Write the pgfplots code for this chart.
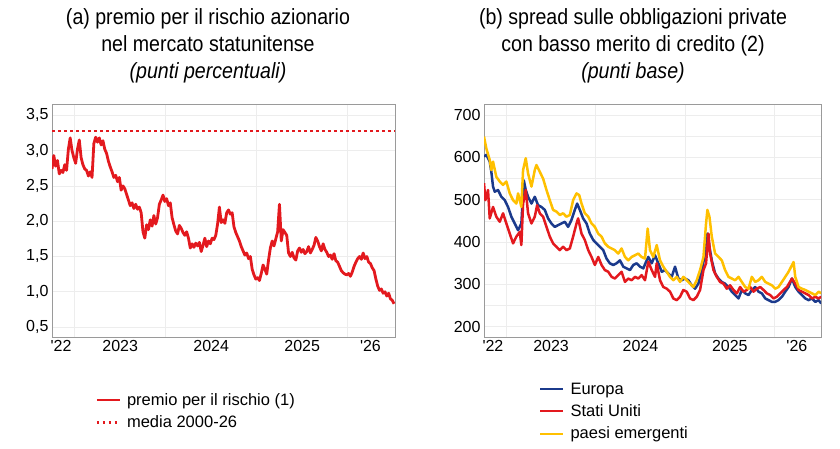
\documentclass[border=0pt]{standalone}
\usepackage{fontspec}
\setmainfont{Liberation Sans}
\newfontfamily\titlefont[FakeStretch=0.89]{Liberation Sans}
\usepackage{pgfplots}
\pgfplotsset{compat=1.18}
\usepackage{pgfplotstable}

\definecolor{bdired}{HTML}{E3191E}
\definecolor{bdiblue}{HTML}{1B3A8C}
\definecolor{bdiyellow}{HTML}{FFC000}
\definecolor{gridgray}{HTML}{EDEDED}
\definecolor{framegray}{HTML}{9A9A9A}

% equity risk premium, US market (percentage points)
\pgfplotstableread{
year erp
2022.75 2.74
2022.77 2.93
2022.79 2.78
2022.81 2.86
2022.83 2.67
2022.85 2.72
2022.87 2.69
2022.89 2.80
2022.91 2.72
2022.93 3.02
2022.95 3.18
2022.97 3.00
2022.99 2.90
2023.01 2.82
2023.03 3.02
2023.05 3.15
2023.07 2.90
2023.09 2.80
2023.11 2.74
2023.13 2.72
2023.15 2.64
2023.17 2.70
2023.19 2.62
2023.21 3.10
2023.23 3.19
2023.25 3.12
2023.27 3.18
2023.29 3.08
2023.31 3.14
2023.33 3.02
2023.35 2.96
2023.37 2.85
2023.39 2.77
2023.41 2.70
2023.43 2.62
2023.45 2.65
2023.47 2.56
2023.49 2.62
2023.51 2.44
2023.53 2.50
2023.55 2.46
2023.57 2.38
2023.59 2.30
2023.61 2.22
2023.63 2.26
2023.65 2.18
2023.67 2.24
2023.69 2.17
2023.71 2.20
2023.73 2.12
2023.75 1.85
2023.77 1.76
2023.79 1.95
2023.81 1.88
2023.83 2.02
2023.85 1.93
2023.87 2.08
2023.89 1.96
2023.91 2.05
2023.93 2.24
2023.95 2.30
2023.97 2.37
2023.99 2.28
2024.01 2.32
2024.03 2.22
2024.05 2.26
2024.07 2.05
2024.09 1.95
2024.11 1.86
2024.13 1.82
2024.15 1.94
2024.17 1.90
2024.19 1.84
2024.21 1.80
2024.23 1.85
2024.25 1.76
2024.27 1.62
2024.29 1.68
2024.31 1.63
2024.33 1.69
2024.35 1.65
2024.37 1.70
2024.39 1.57
2024.41 1.66
2024.43 1.76
2024.45 1.64
2024.47 1.72
2024.49 1.68
2024.51 1.76
2024.53 1.74
2024.55 1.80
2024.57 1.96
2024.59 2.20
2024.61 1.98
2024.63 2.02
2024.65 1.97
2024.67 2.12
2024.69 2.16
2024.71 2.10
2024.73 2.12
2024.75 1.92
2024.77 1.84
2024.79 1.78
2024.81 1.72
2024.83 1.64
2024.85 1.58
2024.87 1.52
2024.89 1.55
2024.91 1.47
2024.93 1.50
2024.95 1.32
2024.97 1.24
2024.99 1.18
2025.01 1.20
2025.03 1.16
2025.05 1.26
2025.07 1.38
2025.09 1.32
2025.11 1.25
2025.13 1.45
2025.15 1.62
2025.17 1.72
2025.19 1.65
2025.21 1.75
2025.23 1.85
2025.25 2.24
2025.27 1.72
2025.29 1.88
2025.31 1.84
2025.33 1.80
2025.35 1.55
2025.37 1.50
2025.39 1.56
2025.41 1.48
2025.43 1.45
2025.45 1.58
2025.47 1.62
2025.49 1.56
2025.51 1.60
2025.53 1.54
2025.55 1.57
2025.57 1.64
2025.59 1.55
2025.61 1.60
2025.63 1.66
2025.65 1.77
2025.67 1.72
2025.69 1.64
2025.71 1.58
2025.73 1.68
2025.75 1.60
2025.77 1.56
2025.79 1.50
2025.81 1.52
2025.83 1.46
2025.85 1.54
2025.87 1.44
2025.89 1.42
2025.91 1.36
2025.93 1.30
2025.95 1.27
2025.97 1.25
2025.99 1.24
2026.01 1.26
2026.03 1.22
2026.05 1.28
2026.07 1.36
2026.09 1.42
2026.11 1.47
2026.13 1.50
2026.15 1.46
2026.17 1.55
2026.19 1.47
2026.21 1.50
2026.23 1.42
2026.25 1.40
2026.27 1.34
2026.29 1.30
2026.31 1.18
2026.33 1.08
2026.35 1.02
2026.37 1.04
2026.39 0.98
2026.41 1.00
2026.43 0.94
2026.45 0.98
2026.47 0.90
2026.49 0.88
2026.51 0.83
}\erptable

% high-yield corporate spreads: Europe (basis points)
\pgfplotstableread{
year bp
2022.750 602
2022.776 606
2022.814 590
2022.832 566
2022.851 531
2022.870 519
2022.907 523
2022.944 507
2022.982 499
2023.019 483
2023.056 460
2023.094 444
2023.131 428
2023.168 444
2023.195 546
2023.217 523
2023.243 507
2023.281 491
2023.318 507
2023.355 487
2023.392 483
2023.430 476
2023.467 456
2023.504 444
2023.542 436
2023.579 440
2023.616 444
2023.654 448
2023.691 436
2023.728 452
2023.766 476
2023.792 491
2023.822 476
2023.859 456
2023.897 444
2023.934 420
2023.972 405
2024.009 397
2024.046 389
2024.084 381
2024.121 361
2024.158 350
2024.196 346
2024.233 350
2024.271 357
2024.308 342
2024.345 338
2024.383 334
2024.420 346
2024.457 350
2024.495 342
2024.532 338
2024.570 357
2024.588 365
2024.626 350
2024.663 369
2024.700 350
2024.738 330
2024.775 334
2024.812 326
2024.850 318
2024.887 342
2024.924 314
2024.962 310
2024.999 314
2025.036 310
2025.074 298
2025.111 290
2025.148 302
2025.186 334
2025.223 373
2025.249 420
2025.272 389
2025.298 357
2025.335 326
2025.373 314
2025.410 306
2025.447 302
2025.485 294
2025.522 283
2025.559 275
2025.597 267
2025.634 287
2025.672 279
2025.709 275
2025.746 287
2025.784 294
2025.821 283
2025.858 279
2025.896 267
2025.933 263
2025.970 259
2026.008 259
2026.045 263
2026.083 271
2026.120 283
2026.157 294
2026.195 314
2026.232 294
2026.269 283
2026.307 275
2026.344 267
2026.381 263
2026.419 267
2026.456 259
2026.493 263
2026.523 255
}\eurtable

% high-yield corporate spreads: United States (basis points)
\pgfplotstableread{
year bp
2022.750 539
2022.765 499
2022.795 523
2022.814 456
2022.851 483
2022.888 460
2022.926 448
2022.963 468
2023.000 444
2023.038 420
2023.075 397
2023.112 413
2023.150 424
2023.168 393
2023.187 491
2023.217 523
2023.243 468
2023.281 444
2023.318 460
2023.344 487
2023.374 468
2023.411 460
2023.449 436
2023.486 413
2023.523 397
2023.561 389
2023.598 381
2023.635 389
2023.672 381
2023.710 385
2023.747 413
2023.785 444
2023.803 456
2023.841 420
2023.878 405
2023.916 381
2023.953 365
2023.990 346
2024.028 365
2024.065 346
2024.102 334
2024.140 330
2024.177 318
2024.214 314
2024.252 322
2024.289 330
2024.327 306
2024.364 314
2024.401 310
2024.439 318
2024.476 314
2024.513 322
2024.551 310
2024.588 354
2024.626 334
2024.663 318
2024.682 350
2024.719 310
2024.756 294
2024.794 290
2024.831 283
2024.868 267
2024.906 263
2024.943 271
2024.980 287
2025.018 283
2025.055 267
2025.092 263
2025.130 271
2025.167 287
2025.205 334
2025.234 350
2025.261 420
2025.279 373
2025.317 334
2025.354 318
2025.391 306
2025.429 302
2025.466 290
2025.503 298
2025.541 287
2025.578 279
2025.615 294
2025.653 283
2025.690 287
2025.728 294
2025.765 283
2025.802 290
2025.840 294
2025.877 287
2025.914 279
2025.952 275
2025.989 267
2026.026 271
2026.064 279
2026.101 287
2026.139 294
2026.195 314
2026.232 302
2026.269 287
2026.307 283
2026.344 279
2026.381 275
2026.419 267
2026.456 271
2026.493 267
2026.523 271
}\usatable

% high-yield corporate spreads: emerging economies (basis points)
\pgfplotstableread{
year bp
2022.750 649
2022.776 621
2022.814 594
2022.832 570
2022.851 590
2022.888 554
2022.926 543
2022.963 535
2023.000 543
2023.038 515
2023.075 499
2023.112 491
2023.131 515
2023.150 499
2023.168 483
2023.187 570
2023.217 598
2023.243 562
2023.281 531
2023.318 570
2023.337 582
2023.374 566
2023.411 550
2023.449 523
2023.486 499
2023.523 476
2023.561 472
2023.598 464
2023.635 468
2023.672 460
2023.710 464
2023.747 499
2023.785 515
2023.815 511
2023.841 491
2023.878 468
2023.916 460
2023.953 444
2023.990 436
2024.028 420
2024.065 413
2024.102 397
2024.140 389
2024.177 385
2024.214 381
2024.252 373
2024.289 385
2024.327 365
2024.364 357
2024.401 365
2024.439 369
2024.476 373
2024.513 365
2024.551 361
2024.581 432
2024.607 381
2024.644 365
2024.682 393
2024.719 357
2024.756 342
2024.794 330
2024.831 318
2024.868 310
2024.906 318
2024.943 306
2024.980 318
2025.018 310
2025.055 302
2025.092 294
2025.130 310
2025.167 334
2025.205 365
2025.234 444
2025.249 476
2025.272 460
2025.298 413
2025.335 373
2025.373 365
2025.410 357
2025.447 334
2025.485 318
2025.522 314
2025.559 310
2025.597 318
2025.634 306
2025.672 294
2025.709 290
2025.746 318
2025.784 306
2025.821 310
2025.858 318
2025.896 306
2025.933 302
2025.970 298
2026.008 290
2026.045 294
2026.083 306
2026.120 318
2026.157 330
2026.213 353
2026.232 318
2026.269 294
2026.307 290
2026.344 287
2026.381 283
2026.419 279
2026.456 275
2026.493 283
2026.523 279
}\emtable

\pgfplotsset{
  panel/.style={
    scale only axis, height=233pt,
    xmin=2022.75, xmax=2026.52,
    xtick={2023,2024,2025,2026}, xticklabels={},
    extra x ticks={2022.85,2023.5,2024.5,2025.5,2026.25},
    extra x tick labels={{\textquotesingle22},2023,2024,2025,{\textquotesingle26}},
    extra x tick style={grid=none, major tick length=0pt},
    major tick length=0pt, minor tick length=0pt,
    xmajorgrids, ymajorgrids,
    grid style={draw=gridgray, line width=0.8pt},
    axis line style={draw=framegray, line width=1pt},
    tick label style={font=\fontsize{16}{16}\selectfont, text=black},
    /pgf/number format/assume math mode=true,
    /pgf/number format/1000 sep={},
    legend style={draw=none, fill=none, font=\fontsize{16.5}{16.5}\selectfont,
      anchor=north west, row sep=5pt, column sep=4pt, cells={anchor=west}},
    legend image code/.code={\draw[#1, line width=2.4pt] (0pt,0pt) -- (23pt,0pt);},
    every axis plot/.append style={line join=round},
  }
}

\begin{document}
\begin{tikzpicture}[x=1pt,y=1pt]
\useasboundingbox (0,0) rectangle (840,448);

% panel titles
\node[anchor=base, font=\titlefont\fontsize{22}{22}\selectfont] at (208,423) {(a) premio per il rischio azionario};
\node[anchor=base, font=\titlefont\fontsize{22}{22}\selectfont] at (208,396) {nel mercato statunitense};
\node[anchor=base, font=\titlefont\itshape\fontsize{22}{22}\selectfont] at (208,369) {(punti percentuali)};
\node[anchor=base, font=\titlefont\fontsize{22}{22}\selectfont] at (633,423) {(b) spread sulle obbligazioni private};
\node[anchor=base, font=\titlefont\fontsize{22}{22}\selectfont] at (633,396) {con basso merito di credito (2)};
\node[anchor=base, font=\titlefont\itshape\fontsize{22}{22}\selectfont] at (633,369) {(punti base)};

\begin{axis}[panel,
  at={(52pt,111pt)}, anchor=south west, width=343pt,
  ymin=0.36, ymax=3.66,
  ytick={0.5,1,...,3.5},
  yticklabel style={/pgf/number format/.cd, fixed, fixed zerofill, precision=1, use comma},
  legend style={at={(0.118,-0.223)}},
]
\addplot[bdired, line width=2.8pt] table[x=year, y=erp] {\erptable};
\addlegendentry{premio per il rischio (1)}
\addplot[bdired, line width=2.4pt, dash pattern=on 2.6pt off 3.4pt] coordinates {(2022.75,3.28) (2026.52,3.28)};
\addlegendentry{media 2000-26}
\end{axis}

\begin{axis}[panel,
  at={(484pt,111pt)}, anchor=south west, width=337pt,
  ymin=176, ymax=726,
  ytick={200,300,...,700},
  minor ytick={250,350,...,650},
  yminorgrids, minor grid style={draw=gridgray, line width=0.8pt},
  legend style={at={(0.154,-0.178)}},
]
\addplot[bdiblue, line width=2.5pt] table[x=year, y=bp] {\eurtable};
\addlegendentry{Europa}
\addplot[bdired, line width=2.5pt] table[x=year, y=bp] {\usatable};
\addlegendentry{Stati Uniti}
\addplot[bdiyellow, line width=2.5pt] table[x=year, y=bp] {\emtable};
\addlegendentry{paesi emergenti}
\end{axis}
\end{tikzpicture}
\end{document}
